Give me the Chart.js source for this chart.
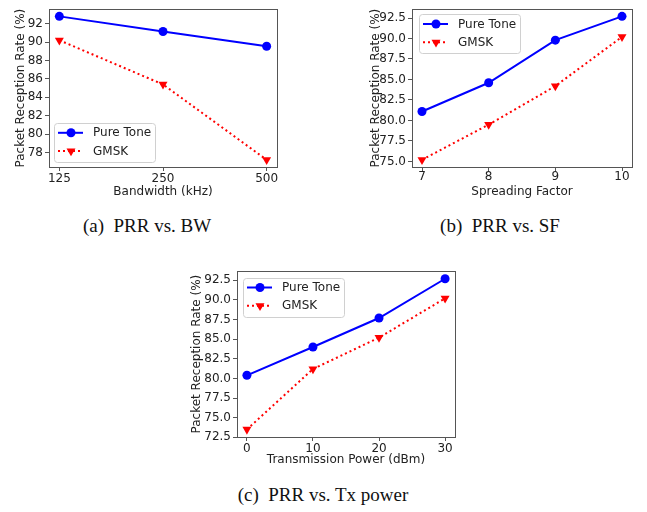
<!DOCTYPE html>
<html>
<head>
<meta charset="utf-8">
<script src="https://cdn.jsdelivr.net/npm/chart.js@4/dist/chart.umd.min.js"></script>
<style>
  html, body { margin: 0; padding: 0; background: #fff; }
  #page { position: relative; width: 647px; height: 512px; overflow: hidden; }
  .panel { position: absolute; }
  .caption {
    position: absolute; font-family: 'Liberation Serif', 'DejaVu Serif', serif;
    font-size: 19px; line-height: 19px; color: #111; white-space: pre; text-align: center;
    transform: translateX(-50%);
  }
</style>
</head>
<body>
<div id="page">
  <canvas id="chartBw" class="panel" width="300" height="200" style="left:0px;top:0px"></canvas>
  <canvas id="chartSf" class="panel" width="317" height="200" style="left:330px;top:0px"></canvas>
  <canvas id="chartTx" class="panel" width="320" height="210" style="left:150px;top:262px"></canvas>
  <div class="caption" style="left:147px;top:216px">(a)  PRR vs. BW</div>
  <div class="caption" style="left:500px;top:216px">(b)  PRR vs. SF</div>
  <div class="caption" style="left:323px;top:485px">(c)  PRR vs. Tx power</div>
</div>
<script>
// data
const bandwidths = ['125', '250', '500'];
const prrBwPure = [92.8, 91.15, 89.55];
const prrBwGmsk = [90.2, 85.4, 77.2];
const yTicksBw = [78, 80, 82, 84, 86, 88, 90, 92];

const spreadingFactors = [7, 8, 9, 10];
const prrSfPure = [81.1, 84.6, 89.8, 92.7];
const prrSfGmsk = [75.2, 79.5, 84.2, 90.2];
const yTicksSf = [75, 77.5, 80, 82.5, 85, 87.5, 90, 92.5];

const txPowers = [0, 10, 20, 30];
const prrTxPure = [80.4, 84.0, 87.7, 92.7];
const prrTxGmsk = [73.5, 81.2, 85.2, 90.2];
const yTicksTx = [72.5, 75, 77.5, 80, 82.5, 85, 87.5, 90, 92.5];

const BLUE = '#0000ff';
const RED = '#ff0000';
const AXIS = '#555555';

Chart.defaults.font.family = "'DejaVu Sans', sans-serif";
Chart.defaults.font.size = 12;
Chart.defaults.color = '#222222';

// matplotlib-like 5% margins
function padRange(vals) {
  const lo = Math.min(...vals), hi = Math.max(...vals);
  const m = (hi - lo) * 0.05;
  return [lo - m, hi + m];
}

function marker(ctx, style, x, y, r) {
  ctx.beginPath();
  if (style === 'circle') {
    ctx.arc(x, y, r, 0, Math.PI * 2);
  } else {
    // downward triangle
    ctx.moveTo(x, y + r);
    ctx.lineTo(x - r * 0.866, y - r * 0.5);
    ctx.lineTo(x + r * 0.866, y - r * 0.5);
    ctx.closePath();
  }
  ctx.fill();
}

// axes frame + legend inside the plot area
const framePlugin = {
  id: 'frameAndLegend',
  afterDraw(chart, args, opts) {
    const { ctx, chartArea: a } = chart;
    ctx.save();
    ctx.strokeStyle = AXIS;
    ctx.lineWidth = 1;
    ctx.strokeRect(Math.round(a.left) + 0.5, Math.round(a.top) + 0.5,
      Math.round(a.right - a.left), Math.round(a.bottom - a.top));

    const w = 101, h = 39;
    const left = a.left + opts.dx;
    const top = opts.corner === 'bottom' ? a.bottom - opts.dy - h : a.top + opts.dy;
    ctx.fillStyle = 'rgba(255,255,255,0.8)';
    ctx.strokeStyle = '#d0d0d0';
    ctx.beginPath();
    ctx.roundRect(Math.round(left) + 0.5, Math.round(top) + 0.5, w, h, 3);
    ctx.fill();
    ctx.stroke();

    chart.data.datasets.forEach((ds, i) => {
      const y = top + 9.8 + i * 18.3;
      ctx.strokeStyle = ds.borderColor;
      ctx.lineWidth = ds.borderWidth;
      ctx.setLineDash(ds.borderDash || []);
      ctx.beginPath();
      ctx.moveTo(left + 4, y);
      ctx.lineTo(left + 29, y);
      ctx.stroke();
      ctx.setLineDash([]);
      ctx.fillStyle = ds.pointBackgroundColor;
      marker(ctx, ds.pointStyle === 'circle' ? 'circle' : 'tri', left + 17, y, ds.pointRadius);
      ctx.fillStyle = '#222';
      ctx.font = "12px 'DejaVu Sans'";
      ctx.textBaseline = 'middle';
      ctx.fillText(ds.label, left + 39, y + 0.5);
    });
    ctx.restore();
  }
};

function makeChart(id, o) {
  const [xMin, xMax] = padRange(o.xs);
  const [yMin, yMax] = padRange(o.pure.concat(o.gmsk));
  const pts = vals => vals.map((v, i) => ({ x: o.xs[i], y: v }));
  return new Chart(document.getElementById(id), {
    type: 'line',
    data: {
      datasets: [{
        label: 'Pure Tone',
        data: pts(o.pure),
        borderColor: BLUE,
        backgroundColor: BLUE,
        borderWidth: 2,
        pointStyle: 'circle',
        pointRadius: 4.5,
        pointBackgroundColor: BLUE,
        pointBorderColor: BLUE,
        pointBorderWidth: 0,
        tension: 0
      }, {
        label: 'GMSK',
        data: pts(o.gmsk),
        borderColor: RED,
        backgroundColor: RED,
        borderWidth: 2,
        borderDash: [2, 3],
        pointStyle: 'triangle',
        pointRotation: 180,
        pointRadius: 5.2,
        pointBackgroundColor: RED,
        pointBorderColor: RED,
        pointBorderWidth: 0,
        tension: 0
      }]
    },
    options: {
      responsive: false,
      animation: false,
      devicePixelRatio: 1,
      layout: { padding: { top: o.padTop, right: o.padRight, left: 0, bottom: 0 } },
      plugins: {
        legend: { display: false },
        tooltip: { enabled: false },
        frameAndLegend: o.legend
      },
      scales: {
        x: {
          type: 'linear',
          min: xMin,
          max: xMax,
          afterBuildTicks: s => { s.ticks = o.xs.map(v => ({ value: v })); },
          afterFit: s => { s.height = o.xAxisH; },
          ticks: {
            autoSkip: false,
            maxRotation: 0,
            padding: o.xTickPad,
            color: '#222',
            callback: (v) => {
              const i = o.xs.indexOf(v);
              return i >= 0 ? o.xLabels[i] : '';
            }
          },
          grid: { drawOnChartArea: false, drawTicks: true, tickLength: 4, color: AXIS },
          border: { display: true, color: AXIS },
          title: { display: true, text: o.xTitle, color: '#222', padding: { top: 0, bottom: o.xTitlePad } }
        },
        y: {
          min: yMin,
          max: yMax,
          afterBuildTicks: s => { s.ticks = o.yTicks.map(v => ({ value: v })); },
          afterFit: s => { s.width = o.yAxisW; },
          ticks: {
            autoSkip: false,
            padding: 2,
            color: '#222',
            callback: v => v.toFixed(o.yDec)
          },
          grid: { drawOnChartArea: false, drawTicks: true, tickLength: 4, color: AXIS },
          border: { display: true, color: AXIS },
          title: { display: true, text: 'Packet Reception Rate (%)', color: '#222', padding: { top: o.yTitlePad, bottom: 0 } }
        }
      }
    },
    plugins: [framePlugin]
  });
}

makeChart('chartBw', {
  xs: bandwidths.map((b, i) => i), xLabels: bandwidths,
  pure: prrBwPure, gmsk: prrBwGmsk, yTicks: yTicksBw, yDec: 0,
  xTitle: 'Bandwidth (kHz)',
  padTop: 3, padRight: 23, yAxisW: 49, xAxisH: 33, xTickPad: 1, xTitlePad: 1, yTitlePad: 13.5,
  legend: { corner: 'bottom', dx: 5, dy: 5 }
});

makeChart('chartSf', {
  xs: spreadingFactors, xLabels: spreadingFactors.map(String),
  pure: prrSfPure, gmsk: prrSfGmsk, yTicks: yTicksSf, yDec: 1,
  xTitle: 'Spreading Factor',
  padTop: 3, padRight: 15, yAxisW: 82, xAxisH: 33, xTickPad: -1, xTitlePad: 0.5, yTitlePad: 38.5,
  legend: { corner: 'top', dx: 7, dy: 5 }
});

makeChart('chartTx', {
  xs: txPowers, xLabels: txPowers.map(String),
  pure: prrTxPure, gmsk: prrTxGmsk, yTicks: yTicksTx, yDec: 1,
  xTitle: 'Transmission Power (dBm)',
  padTop: 9, padRight: 15, yAxisW: 87, xAxisH: 35, xTickPad: 1, xTitlePad: 5, yTitlePad: 39.5,
  legend: { corner: 'top', dx: 6, dy: 6.5 }
});
</script>
</body>
</html>
